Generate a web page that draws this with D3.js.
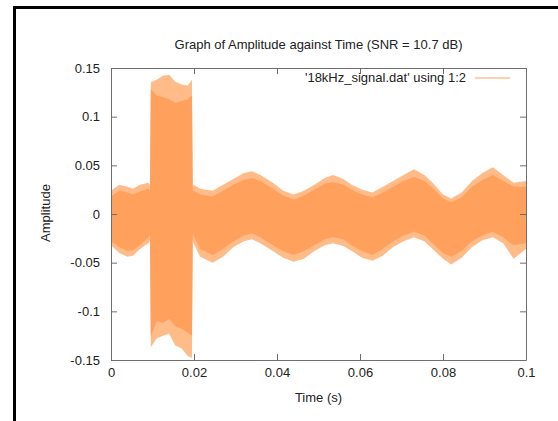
<!DOCTYPE html>
<html lang="en">
<head>
<meta charset="UTF-8">
<title>Graph of Amplitude against Time</title>
<script src="https://d3js.org/d3.v7.min.js"></script>
<style>
    body { margin: 0; background: #fff; }
    svg text { font-family: "Liberation Sans", Arial, sans-serif; font-size: 13px; fill: #222; }
</style>
</head>
<body>
<svg id="chart" width="558" height="421"></svg>
<script>
// envelope of the 18 kHz signal
var timePts = [0, 0.002, 0.004, 0.0053, 0.007, 0.009, 0.0094, 0.0096, 0.011, 0.0125,
    0.014, 0.0155, 0.017, 0.0185, 0.0195, 0.0197, 0.0199, 0.0215, 0.0245, 0.027,
    0.0295, 0.032, 0.034, 0.036, 0.039, 0.0415, 0.044, 0.0465, 0.049, 0.0515,
    0.0535, 0.056, 0.058, 0.0605, 0.063, 0.0655, 0.068, 0.0705, 0.073, 0.0755,
    0.0775, 0.08, 0.082, 0.0845, 0.087, 0.0895, 0.092, 0.0945, 0.097, 0.1];
// spike tips above
var upperPeak = [0.024, 0.030, 0.028, 0.026, 0.030, 0.032, 0.030, 0.135, 0.138, 0.142,
    0.143, 0.136, 0.133, 0.132, 0.138, 0.028, 0.030, 0.026, 0.024, 0.030,
    0.036, 0.042, 0.044, 0.040, 0.032, 0.024, 0.020, 0.024, 0.030, 0.037,
    0.040, 0.036, 0.030, 0.025, 0.022, 0.028, 0.034, 0.040, 0.046, 0.040,
    0.032, 0.020, 0.016, 0.022, 0.034, 0.042, 0.048, 0.040, 0.032, 0.034];
// solid band
var upperCore = [0.018, 0.024, 0.022, 0.020, 0.023, 0.026, 0.024, 0.128, 0.122, 0.120,
    0.118, 0.114, 0.116, 0.118, 0.122, 0.022, 0.024, 0.020, 0.018, 0.024,
    0.030, 0.035, 0.037, 0.034, 0.026, 0.019, 0.015, 0.019, 0.025, 0.031,
    0.033, 0.030, 0.025, 0.020, 0.017, 0.022, 0.028, 0.034, 0.038, 0.034,
    0.027, 0.016, 0.012, 0.017, 0.028, 0.035, 0.040, 0.034, 0.028, 0.028];
var lowerCore = [-0.028, -0.034, -0.038, -0.037, -0.032, -0.024, -0.022, -0.126, -0.110, -0.112,
    -0.108, -0.115, -0.118, -0.122, -0.125, -0.020, -0.022, -0.036, -0.042, -0.036,
    -0.028, -0.022, -0.020, -0.024, -0.032, -0.038, -0.042, -0.038, -0.032, -0.026,
    -0.024, -0.026, -0.032, -0.038, -0.042, -0.036, -0.028, -0.022, -0.018, -0.022,
    -0.030, -0.040, -0.044, -0.038, -0.028, -0.022, -0.018, -0.024, -0.032, -0.030];
// spike tips below
var lowerPeak = [-0.032, -0.040, -0.044, -0.043, -0.036, -0.030, -0.028, -0.137, -0.128, -0.125,
    -0.123, -0.135, -0.138, -0.146, -0.148, -0.026, -0.030, -0.044, -0.050, -0.044,
    -0.034, -0.028, -0.026, -0.030, -0.038, -0.045, -0.049, -0.046, -0.038, -0.032,
    -0.030, -0.033, -0.038, -0.045, -0.048, -0.043, -0.034, -0.028, -0.024, -0.028,
    -0.036, -0.046, -0.052, -0.045, -0.034, -0.027, -0.024, -0.030, -0.046, -0.036];

var xTicks = [0, 0.02, 0.04, 0.06, 0.08, 0.1];
var yTicks = [-0.15, -0.1, -0.05, 0, 0.05, 0.1, 0.15];

var svg = d3.select("#chart");
var plotL = 111, plotR = 526, plotT = 68, plotB = 360;

var x = d3.scaleLinear().domain([0, 0.1]).range([plotL, plotR]);
var y = d3.scaleLinear().domain([-0.15, 0.15]).range([plotB, plotT]);

// window frame (left and top edges)
svg.append("path")
    .attr("d", "M14.5,421V7.5H558")
    .attr("fill", "none")
    .attr("stroke", "#000")
    .attr("stroke-width", 3);

var rows = timePts.map(function (t, i) {
    return { t: t, up: upperPeak[i], uc: upperCore[i], lc: lowerCore[i], lp: lowerPeak[i] };
});

// spike fringe
svg.append("path")
    .datum(rows)
    .attr("fill", "#ffbb88")
    .attr("d", d3.area()
        .x(function (d) { return x(d.t); })
        .y0(function (d) { return y(d.lp); })
        .y1(function (d) { return y(d.up); }));

// solid band
svg.append("path")
    .datum(rows)
    .attr("fill", "#ffa05c")
    .attr("d", d3.area()
        .x(function (d) { return x(d.t); })
        .y0(function (d) { return y(d.lc); })
        .y1(function (d) { return y(d.uc); }));

var fmt = function (d) { return String(+d.toFixed(2)); };

function styleAxis(g) {
    g.select(".domain").attr("stroke", "#6e6e6e");
    g.selectAll(".tick line").attr("stroke", "#6e6e6e");
    g.selectAll(".tick text").attr("fill", "#222")
        .style("font-family", "'Liberation Sans', Arial, sans-serif").style("font-size", "13px");
}

svg.append("g").attr("transform", "translate(0," + plotB + ")")
    .call(d3.axisBottom(x).tickValues(xTicks).tickFormat(fmt).tickSize(-6).tickPadding(8).tickSizeOuter(0))
    .call(styleAxis);
svg.append("g").attr("transform", "translate(0," + plotT + ")")
    .call(d3.axisTop(x).tickValues(xTicks).tickFormat("").tickSize(-6).tickSizeOuter(0))
    .call(styleAxis);
svg.append("g").attr("transform", "translate(" + plotL + ",0)")
    .call(d3.axisLeft(y).tickValues(yTicks).tickFormat(fmt).tickSize(-6).tickPadding(11).tickSizeOuter(0))
    .call(styleAxis);
svg.append("g").attr("transform", "translate(" + plotR + ",0)")
    .call(d3.axisRight(y).tickValues(yTicks).tickFormat("").tickSize(-6).tickSizeOuter(0))
    .call(styleAxis);

// titles
svg.append("text").attr("x", (plotL + plotR) / 2).attr("y", 49)
    .attr("text-anchor", "middle").text("Graph of Amplitude against Time (SNR = 10.7 dB)");
svg.append("text").attr("x", (plotL + plotR) / 2).attr("y", 402)
    .attr("text-anchor", "middle").text("Time (s)");
svg.append("text").attr("transform", "translate(50,213) rotate(-90)")
    .attr("text-anchor", "middle").text("Amplitude");

// legend
svg.append("text").attr("x", 466).attr("y", 82)
    .attr("text-anchor", "end").text("'18kHz_signal.dat' using 1:2");
svg.append("line").attr("x1", 475).attr("x2", 510).attr("y1", 78).attr("y2", 78)
    .attr("stroke", "#ffa05c").attr("stroke-width", 1);
</script>
</body>
</html>
